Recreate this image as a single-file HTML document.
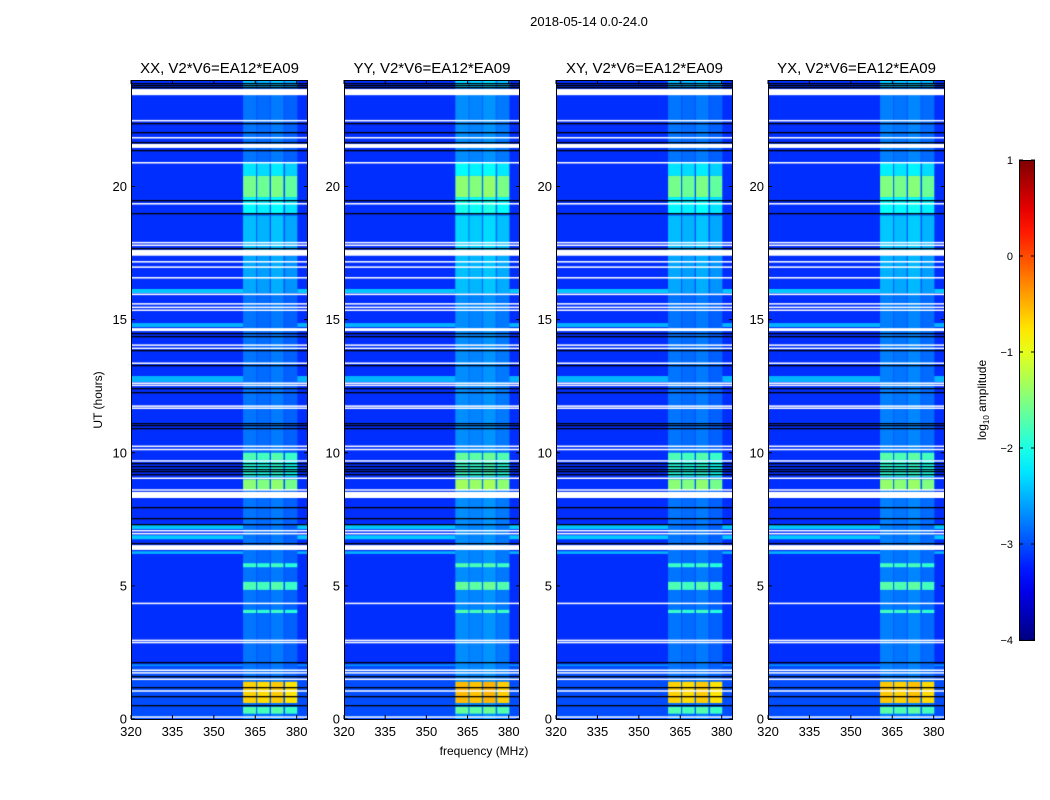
<!DOCTYPE html>
<html><head><meta charset="utf-8"><style>
html,body{margin:0;padding:0;background:#fff;}
#wrap{position:relative;width:1050px;height:800px;overflow:hidden;font-family:"Liberation Sans","DejaVu Sans",sans-serif;}
canvas{position:absolute;}
svg{position:absolute;left:0;top:0;}
</style></head><body>
<div id="wrap">
<canvas id="c0" width="177" height="639" style="left:131px;top:80px"></canvas>
<canvas id="c1" width="176" height="639" style="left:344px;top:80px"></canvas>
<canvas id="c2" width="177" height="639" style="left:556px;top:80px"></canvas>
<canvas id="c3" width="177" height="639" style="left:768px;top:80px"></canvas>
<svg id="s" width="1050" height="800"></svg>
</div>
<script>
// ---- data ----
const panelNames = ["XX, V2*V6=EA12*EA09","YY, V2*V6=EA12*EA09","XY, V2*V6=EA12*EA09","YX, V2*V6=EA12*EA09"];
const panelBoost = [0, 0.12, 0, 0.05];
const subbands = [[360.6,365.3],[365.7,370.2],[370.7,375.2],[375.8,380.2]];
const subbandOffset = [0.05, 0.0, 0.08, -0.05];
const bgValue = -3.15;
const bandValue = -2.85;
const gapValue = -2.95;
// [startHour, endHour, bandValue]
const bandEvents = [[23.7,24,-2.5],[20.4,20.9,-2.3],[19.6,20.4,-1.6],[19.0,19.6,-2.2],[17.5,18.9,-2.5],[16.0,17.4,-2.6],
 [9.73,10.0,-1.8],[9.1,9.7,-2.0],[8.6,9.0,-1.5],[5.7,5.85,-1.9],[4.85,5.15,-1.8],[3.98,4.1,-1.9],[0.6,1.4,-0.7],[0.2,0.45,-1.8]];
// [startHour, endHour, value] full-width brightening
const bgEvents = [[16.0,16.15,-2.4],[14.72,14.87,-2.5],[12.66,12.88,-2.5],[7.13,7.3,-2.4],[6.75,6.9,-2.4],[6.2,6.3,-2.5],[1.9,2.05,-2.55],[0,2.0,-3.0]];
const whiteFlags = [[23.43,23.66],[22.45,22.5],[21.82,21.86],[21.45,21.6],[20.88,20.92],[19.34,19.38],[17.88,17.92],[17.78,17.82],[17.4,17.62],
 [17.16,17.2],[16.96,17.0],[16.56,16.6],[15.92,15.98],[15.58,15.62],[15.45,15.49],[15.34,15.38],[14.57,14.68],[14.03,14.07],[13.91,13.95],
 [13.35,13.39],[12.6,12.64],[12.52,12.56],[11.74,11.78],[11.66,11.7],[10.23,10.27],[10.11,10.15],[9.68,9.72],[9.03,9.07],[8.6,8.63],
 [8.3,8.53],[7.05,7.1],[6.95,6.99],[6.35,6.53],[4.33,4.37],[2.94,2.98],[2.86,2.9],[1.8,1.86],[1.72,1.76],[1.48,1.52],[1.04,1.08],[0.06,0.1]];
const blackFlags = [23.88,23.8,23.72,22.4,22.05,21.67,21.37,19.5,19.0,17.7,14.5,14.38,13.85,13.3,12.43,12.3,11.1,11.04,10.93,
 9.6,9.5,9.4,9.3,9.2,7.96,7.55,7.32,6.6,2.14,1.62,1.22,0.87,0.52];
const colorbarTicks = [1,0,-1,-2,-3,-4];
const yTicks = [0,5,10,15,20];
const xTicks = [320,335,350,365,380];

// ---- scales ----
const pLeft=[131,344,556,768], pW=[177,176,177,177], pTop=80, pH=639;
const fMin=320, fMax=384.1, tMax=24;
function xs(p,f){return (f-fMin)/(fMax-fMin)*pW[p];}
function ys(t){return (tMax-t)/tMax*pH;}
function jet(v){let x=(v+4)/5;x=Math.max(0,Math.min(1,x));
 const r=Math.max(0,Math.min(1,Math.min(4*x-1.5,-4*x+4.5)));
 const g=Math.max(0,Math.min(1,Math.min(4*x-0.5,-4*x+3.5)));
 const b=Math.max(0,Math.min(1,Math.min(4*x+0.5,-4*x+2.5)));
 return `rgb(${Math.round(r*255)},${Math.round(g*255)},${Math.round(b*255)})`;}

function drawPanel(p){
 const ctx=document.getElementById('c'+p).getContext('2d');
 ctx.fillStyle=jet(bgValue);ctx.fillRect(0,0,pW[p],pH);
 bgEvents.forEach(e=>{ctx.fillStyle=jet(e[2]);ctx.fillRect(0,ys(e[1]),pW[p],ys(e[0])-ys(e[1]));});
 ctx.fillStyle=jet(gapValue+panelBoost[p]);
 ctx.fillRect(xs(p,subbands[0][0]),0,xs(p,subbands[3][1])-xs(p,subbands[0][0]),pH);
 subbands.forEach((s,i)=>{ctx.fillStyle=jet(bandValue+subbandOffset[i]+panelBoost[p]);
   ctx.fillRect(xs(p,s[0]),0,xs(p,s[1])-xs(p,s[0]),pH);});
 bandEvents.forEach(e=>{subbands.forEach((s,i)=>{
   ctx.fillStyle=jet(e[2]+subbandOffset[i]+panelBoost[p]);
   ctx.fillRect(xs(p,s[0]),ys(e[1]),xs(p,s[1])-xs(p,s[0]),ys(e[0])-ys(e[1]));});});
 ctx.fillStyle='#fff';
 whiteFlags.forEach(w=>{const y0=ys(w[1]),h=Math.max(1.5,ys(w[0])-y0);ctx.fillRect(0,y0,pW[p],h);});
 ctx.fillStyle='#000';
 blackFlags.forEach(t=>{ctx.fillRect(0,Math.round(ys(t)),pW[p],1.3);});
}
for(let p=0;p<4;p++)drawPanel(p);

// ---- axes ----
const svg=document.getElementById('s');const NS='http://www.w3.org/2000/svg';
function el(tag,attrs,txt){const e=document.createElementNS(NS,tag);for(const k in attrs)e.setAttribute(k,attrs[k]);if(txt!==undefined)e.textContent=txt;svg.appendChild(e);return e;}
let t=el('text',{x:589,y:26,'font-size':13,'text-anchor':'middle'},'2018-05-14 0.0-24.0');

for(let p=0;p<4;p++){
 const L=pLeft[p];
 let r=el('rect',{x:L+0.5,y:pTop+0.5,width:pW[p]-1,height:pH,fill:'none',stroke:'#000','stroke-width':1});
 
 let tt=el('text',{x:L+pW[p]/2,y:73,'font-size':15,'text-anchor':'middle'},panelNames[p]);
 
 yTicks.forEach(v=>{const y=pTop+ys(v);
  el('line',{x1:L,x2:L+4,y1:y,y2:y,stroke:'#000'});el('line',{x1:L+pW[p]-4,x2:L+pW[p],y1:y,y2:y,stroke:'#000'});
  let lab=el('text',{x:L-4,y:y+4.5,'font-size':13,'text-anchor':'end'},String(v));
  });
 xTicks.forEach(v=>{const x=L+xs(p,v);
  el('line',{x1:x,x2:x,y1:pTop+pH,y2:pTop+pH-4,stroke:'#000'});el('line',{x1:x,x2:x,y1:pTop,y2:pTop+4,stroke:'#000'});
  let lab=el('text',{x:x,y:736,'font-size':13,'text-anchor':'middle'},String(v));
  });
}
t=el('text',{x:484,y:755,'font-size':12,'text-anchor':'middle'},'frequency (MHz)');

t=el('text',{x:0,y:0,'font-size':12,'text-anchor':'middle',transform:'translate(102,400) rotate(-90)'},'UT (hours)');

// colorbar
const defs=el('defs',{});const lg=document.createElementNS(NS,'linearGradient');
lg.setAttribute('id','jetg');lg.setAttribute('x1','0');lg.setAttribute('y1','1');lg.setAttribute('x2','0');lg.setAttribute('y2','0');defs.appendChild(lg);
for(let i=0;i<=20;i++){const s=document.createElementNS(NS,'stop');s.setAttribute('offset',i/20);s.setAttribute('stop-color',jet(-4+5*i/20));lg.appendChild(s);}
const cbTop=160,cbH=480,cbL=1019,cbW=15;
let cb=el('rect',{x:cbL+0.5,y:cbTop+0.5,width:cbW,height:cbH,fill:'url(#jetg)',stroke:'#000'});

colorbarTicks.forEach(v=>{const y=cbTop+(1-v)/5*cbH;
 el('line',{x1:cbL,x2:cbL+4,y1:y,y2:y,stroke:'#000'});el('line',{x1:cbL+cbW-3,x2:cbL+cbW+1,y1:y,y2:y,stroke:'#000'});
 let lab=el('text',{x:1013,y:y+4,'font-size':11,'text-anchor':'end'},v<0?'\u2212'+(-v):String(v));
 });
t=el('text',{x:0,y:0,'font-size':12,'text-anchor':'middle',transform:'translate(986,400) rotate(-90)'});

const a=document.createElementNS(NS,'tspan');a.textContent='log';t.appendChild(a);
const b=document.createElementNS(NS,'tspan');b.setAttribute('font-size','8');b.setAttribute('dy','3');b.textContent='10';t.appendChild(b);
const c=document.createElementNS(NS,'tspan');c.setAttribute('dy','-3');c.textContent=' amplitude';t.appendChild(c);
</script>
</body></html>
